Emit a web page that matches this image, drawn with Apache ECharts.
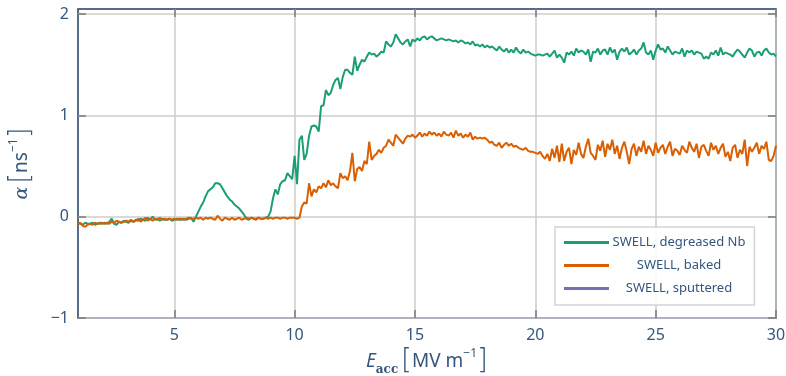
<!DOCTYPE html>
<html>
<head>
<meta charset="utf-8">
<script src="https://cdn.jsdelivr.net/npm/echarts@6/dist/echarts.min.js"></script>
<style>
  html, body { margin: 0; padding: 0; background: #fff; }
  #chart { width: 786px; height: 376px; }
</style>
</head>
<body>
<div id="chart"></div>
<script>
// alpha vs E_acc for the three SWELL runs, sampled every 0.1 MV/m from 1 to 30
const eStart = 1.0
const eStep = 0.1

const xTicks = [5, 10, 15, 20, 25, 30]
const yTicks = [-1, 0, 1, 2]

const seriesNames = ['SWELL, degreased Nb', 'SWELL, baked', 'SWELL, sputtered']

// SWELL, degreased Nb
const alphaDegreased = [
  -0.06, -0.07, -0.08, -0.06, -0.07, -0.07, -0.06, -0.08, -0.07, -0.06,
  -0.07, -0.06, -0.07, -0.05, -0.02, -0.07, -0.08, -0.05, -0.06, -0.04,
  -0.05, -0.06, -0.04, -0.05, -0.03, -0.04, -0.02, -0.03, -0.04, -0.01,
  -0.03, 0.0, -0.03, -0.02, -0.04, -0.02, -0.03, -0.03, -0.02, -0.04,
  -0.03, -0.02, -0.03, -0.03, -0.02, -0.03, -0.02, -0.01, -0.05, 0.0,
  0.05, 0.10, 0.14, 0.20, 0.25, 0.27, 0.29, 0.33, 0.33, 0.32,
  0.28, 0.24, 0.20, 0.17, 0.15, 0.12, 0.10, 0.08, 0.05, 0.02,
  -0.02, -0.03, -0.01, -0.02, -0.02, -0.01, -0.02, -0.02, -0.01, 0.0,
  0.05, 0.18, 0.27, 0.22, 0.32, 0.35, 0.36, 0.43, 0.40, 0.37,
  0.60, 0.32, 0.76, 0.80, 0.56, 0.62, 0.80, 0.89, 0.90, 0.89,
  0.84, 1.09, 1.10, 1.25, 1.20, 1.22, 1.30, 1.35, 1.37, 1.26,
  1.38, 1.45, 1.45, 1.42, 1.40, 1.58, 1.44, 1.50, 1.55, 1.53,
  1.58, 1.62, 1.60, 1.61, 1.58, 1.60, 1.63, 1.62, 1.73, 1.70,
  1.68, 1.72, 1.80, 1.76, 1.72, 1.70, 1.73, 1.75, 1.68, 1.75,
  1.73, 1.76, 1.74, 1.77, 1.78, 1.75, 1.77, 1.78, 1.76, 1.74,
  1.75, 1.76, 1.75, 1.74, 1.75, 1.74, 1.73, 1.74, 1.72, 1.74,
  1.73, 1.71, 1.72, 1.70, 1.73, 1.69, 1.70, 1.68, 1.70, 1.67,
  1.69, 1.67, 1.68, 1.66, 1.64, 1.68, 1.65, 1.63, 1.66, 1.62,
  1.65, 1.62, 1.67, 1.63, 1.61, 1.65, 1.62, 1.63, 1.61, 1.60,
  1.59, 1.60, 1.60, 1.59, 1.60, 1.61, 1.58, 1.61, 1.64, 1.57,
  1.60, 1.57, 1.52, 1.62, 1.60, 1.63, 1.59, 1.66, 1.62, 1.64,
  1.63, 1.60, 1.65, 1.53, 1.63, 1.62, 1.66, 1.60, 1.64, 1.65,
  1.60, 1.67, 1.62, 1.65, 1.55, 1.63, 1.66, 1.63, 1.67, 1.60,
  1.62, 1.65, 1.60, 1.64, 1.66, 1.72, 1.62, 1.60, 1.64, 1.55,
  1.64, 1.70, 1.65, 1.66, 1.62, 1.68, 1.64, 1.60, 1.63, 1.62,
  1.61, 1.66, 1.58, 1.64, 1.62, 1.64, 1.60, 1.63, 1.62, 1.61,
  1.56, 1.58, 1.56, 1.62, 1.60, 1.64, 1.59, 1.67, 1.60, 1.62,
  1.61, 1.60, 1.58, 1.62, 1.65, 1.63, 1.60, 1.57, 1.62, 1.66,
  1.64, 1.58, 1.62, 1.63, 1.59, 1.64, 1.66, 1.62, 1.60, 1.61,
  1.58
]

// SWELL, baked
const alphaBaked = [
  -0.07, -0.06, -0.09, -0.10, -0.08, -0.07, -0.08, -0.06, -0.07, -0.07,
  -0.06, -0.07, -0.06, -0.07, -0.05, -0.06, -0.04, -0.05, -0.06, -0.05,
  -0.04, -0.05, -0.03, -0.05, -0.04, -0.02, -0.05, -0.03, -0.01, -0.04,
  -0.02, -0.04, -0.02, -0.03, -0.01, -0.03, -0.02, -0.03, -0.02, -0.03,
  -0.02, -0.03, -0.02, -0.02, -0.03, -0.02, -0.01, -0.02, -0.02, -0.01,
  -0.02, -0.01, -0.03, -0.01, -0.02, -0.01, -0.02, -0.03, 0.01, -0.02,
  -0.04, -0.01, -0.02, -0.03, -0.01, -0.03, -0.02, -0.01, -0.03, -0.02,
  -0.01, -0.02, -0.01, -0.02, -0.03, -0.01, -0.02, -0.02, -0.01, -0.02,
  -0.01, -0.02, -0.01, -0.01, -0.02, -0.01, -0.01, -0.02, -0.01, -0.01,
  -0.01, -0.02, -0.01, 0.10, 0.14, 0.13, 0.33, 0.20, 0.27, 0.24,
  0.30, 0.28, 0.33, 0.29, 0.36, 0.31, 0.33, 0.30, 0.28, 0.43,
  0.38, 0.40, 0.36, 0.45, 0.63, 0.35, 0.47, 0.49, 0.45, 0.55,
  0.52, 0.74, 0.56, 0.60, 0.62, 0.66, 0.63, 0.68, 0.70, 0.76,
  0.73, 0.70, 0.81, 0.78, 0.75, 0.72, 0.77, 0.80, 0.79, 0.81,
  0.78, 0.80, 0.83, 0.79, 0.82, 0.80, 0.84, 0.81, 0.83, 0.80,
  0.82, 0.79, 0.84, 0.81, 0.80, 0.83, 0.78, 0.85, 0.80, 0.82,
  0.78, 0.81, 0.79, 0.83, 0.76, 0.79, 0.77, 0.78, 0.77, 0.78,
  0.76, 0.73, 0.74, 0.71, 0.70, 0.73, 0.68, 0.71, 0.73, 0.70,
  0.72, 0.69, 0.70, 0.68, 0.67, 0.66, 0.68, 0.65, 0.64, 0.64,
  0.63, 0.62, 0.64, 0.60, 0.57, 0.62, 0.55, 0.67, 0.58, 0.70,
  0.54, 0.72, 0.55, 0.64, 0.68, 0.52, 0.66, 0.61, 0.73, 0.62,
  0.58, 0.69, 0.77, 0.63, 0.60, 0.56, 0.71, 0.65, 0.75, 0.59,
  0.72, 0.66, 0.76, 0.62, 0.70, 0.57, 0.68, 0.74, 0.64, 0.52,
  0.67, 0.72, 0.60, 0.69, 0.64, 0.75, 0.62, 0.70, 0.66, 0.60,
  0.73, 0.63, 0.68, 0.71, 0.62, 0.69, 0.74, 0.60, 0.67, 0.65,
  0.61, 0.70, 0.66, 0.63, 0.74, 0.68, 0.64, 0.72, 0.58, 0.69,
  0.71, 0.65, 0.60, 0.73, 0.66, 0.70, 0.62, 0.68, 0.72, 0.59,
  0.64, 0.55, 0.68, 0.71, 0.58, 0.66, 0.62, 0.76, 0.50, 0.69,
  0.64, 0.68, 0.73, 0.62, 0.70, 0.67, 0.74, 0.56, 0.55, 0.60,
  0.70
]

// SWELL, sputtered: listed in the legend, no points in this range
const alphaSputtered = []

const COLORS = ['#1b9e77', '#d95f02', '#7570b3']
const TEXT = '#34567d'
const FRAME = '#1f3d66'

function toPairs(values) {
  return values.map((v, i) => [+(eStart + i * eStep).toFixed(1), v])
}

const chart = echarts.init(document.getElementById('chart'))

const font = 'Noto Sans, Open Sans, sans-serif'
const tickStyle = { color: '#7a7a7a', width: 1.5 }

chart.setOption({
  animation: false,
  color: COLORS,
  textStyle: { fontFamily: font, color: TEXT },
  grid: {
    left: 78, right: 10, top: 9, bottom: 58,
    outerBoundsMode: 'none',
    show: true, borderColor: FRAME, borderWidth: 1.5, backgroundColor: 'transparent',
  },
  legend: {
    orient: 'vertical',
    left: 555,
    top: 227,
    padding: [9, 9, 10, 9],
    itemGap: 10,
    itemWidth: 45,
    itemHeight: 3,
    icon: 'rect',
    backgroundColor: 'rgba(255,255,255,0.85)',
    borderColor: '#d4d4d4',
    borderWidth: 1.5,
    borderRadius: 0,
    data: seriesNames,
    formatter: (name) => '{c|' + name + '}',
    textStyle: {
      color: TEXT,
      fontSize: 13,
      fontFamily: font,
      rich: { c: { width: 130, align: 'center', fontSize: 13, color: TEXT, fontFamily: font } },
    },
  },
  xAxis: [
    {
      type: 'value',
      min: 1,
      max: 30,
      name: '{e|E}{s|acc}{g| }{b|[}{u|MV m}{p|−1}{b|]}',
      nameLocation: 'middle',
      nameGap: 30,
      nameTextStyle: {
        color: TEXT,
        rich: {
          e: { fontSize: 19, fontStyle: 'italic', color: TEXT, fontFamily: font },
          s: { fontSize: 12, fontWeight: 'bold', fontFamily: 'DejaVu Serif', color: TEXT, verticalAlign: 'bottom', lineHeight: 24 },
          g: { fontSize: 11 },
          b: { fontSize: 28, color: TEXT, fontFamily: 'DejaVu Sans', fontWeight: 'lighter' },
          u: { fontSize: 19, color: TEXT, fontFamily: font },
          p: { fontSize: 12, color: TEXT, fontFamily: font, verticalAlign: 'top', lineHeight: 24 },
        },
      },
      axisLine: { show: false, onZero: false },
      axisTick: { show: true, inside: true, length: 8, lineStyle: tickStyle, customValues: xTicks },
      axisLabel: { color: TEXT, fontSize: 16, margin: 9, customValues: xTicks },
      splitLine: { show: true, lineStyle: { color: '#cdcdcd', width: 1.5 } },
    },
    {
      type: 'value',
      position: 'top',
      min: 1,
      max: 30,
      axisLine: { show: false, onZero: false },
      axisTick: { show: true, inside: true, length: 8, lineStyle: tickStyle, customValues: xTicks },
      axisLabel: { show: false },
      splitLine: { show: false },
    },
  ],
  yAxis: [
    {
      type: 'value',
      min: -1,
      max: 2.05,
      name: '{a|α}{g| }{b|[}{u|ns}{p|−1}{b|]}',
      nameLocation: 'middle',
      nameRotate: 90,
      nameGap: 42,
      nameTextStyle: {
        color: TEXT,
        rich: {
          a: { fontSize: 19, fontStyle: 'italic', fontFamily: 'DejaVu Serif', color: TEXT },
          g: { fontSize: 11 },
          b: { fontSize: 28, color: TEXT, fontFamily: 'DejaVu Sans', fontWeight: 'lighter' },
          u: { fontSize: 19, color: TEXT, fontFamily: font },
          p: { fontSize: 12, color: TEXT, fontFamily: font, verticalAlign: 'top', lineHeight: 24 },
        },
      },
      axisLine: { show: false, onZero: false },
      axisTick: { show: true, inside: true, length: 8, lineStyle: tickStyle, customValues: yTicks },
      axisLabel: {
        color: TEXT, fontSize: 16, margin: 9, customValues: yTicks,
        formatter: (v) => (v < 0 ? '\u2212' + Math.abs(v) : String(v)),
      },
      splitLine: { show: true, lineStyle: { color: '#cdcdcd', width: 1.5 } },
    },
    {
      type: 'value',
      position: 'right',
      min: -1,
      max: 2.05,
      axisLine: { show: false, onZero: false },
      axisTick: { show: true, inside: true, length: 8, lineStyle: tickStyle, customValues: yTicks },
      axisLabel: { show: false },
      splitLine: { show: false },
    },
  ],
  series: [
    { name: seriesNames[0], type: 'line', data: toPairs(alphaDegreased), showSymbol: false, lineStyle: { width: 2 } },
    { name: seriesNames[1], type: 'line', data: toPairs(alphaBaked), showSymbol: false, lineStyle: { width: 2 } },
    { name: seriesNames[2], type: 'line', data: toPairs(alphaSputtered), showSymbol: false, lineStyle: { width: 2 } },
  ],
})
</script>
</body>
</html>
